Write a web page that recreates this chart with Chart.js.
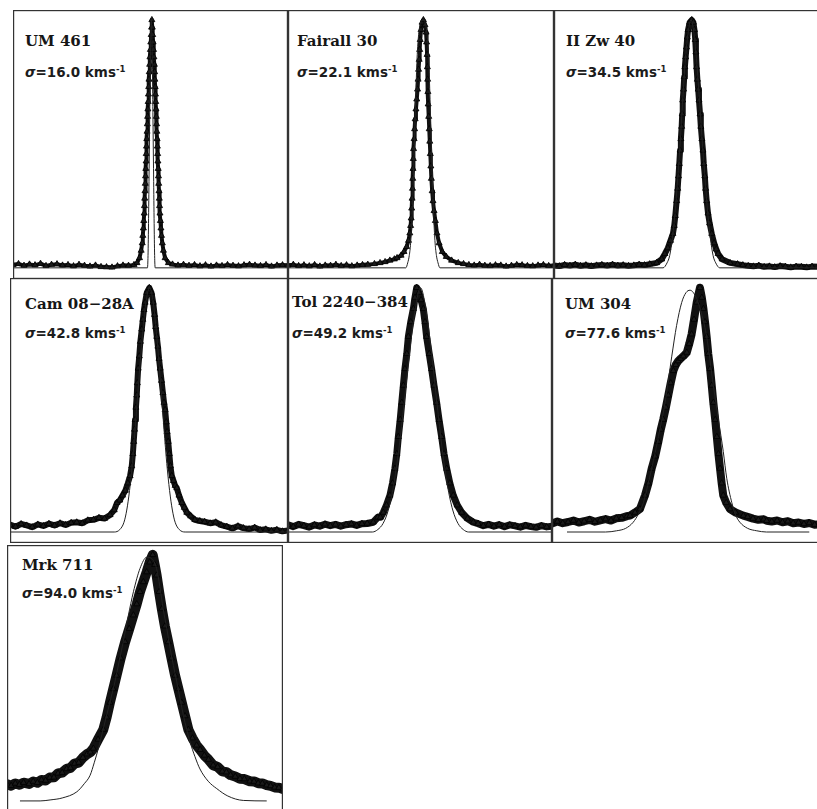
<!DOCTYPE html>
<html>
<head>
<meta charset="utf-8">
<script src="https://cdn.jsdelivr.net/npm/chart.js@4/dist/chart.umd.min.js"></script>
<style>
  html, body { margin: 0; padding: 0; background: #fff; width: 817px; height: 809px; overflow: hidden; }
  #fig { position: relative; width: 817px; height: 809px; }
  canvas { position: absolute; z-index: 2; }
  .lbl { position: absolute; z-index: 1; white-space: nowrap; color: #161616;
         font: bold 15px "DejaVu Serif", serif; line-height: 15px; }
  .sig { position: absolute; z-index: 1; white-space: nowrap; color: #1c1c1c;
         font: bold 13.5px "DejaVu Sans", sans-serif; line-height: 14px; }
  .sig sup { font-size: 8.5px; vertical-align: 5px; line-height: 0; }
</style>
</head>
<body>
<div id="fig"></div>
<script>
// Normalised H-alpha line profiles: observed points (triangles) and single-Gaussian fit (thin line).
// x: position across the panel (0-100), y: normalised flux (peak = 1).

const galaxyNames = ["UM 461", "Fairall 30", "II Zw 40", "Cam 08\u221228A", "Tol 2240\u2212384", "UM 304", "Mrk 711"];
const sigmaValues = [16.0, 22.1, 34.5, 42.8, 49.2, 77.6, 94.0];

const um461Obs = [[0,0.012],[2,0.016],[4,0.009],[6,0.014],[8,0.011],[10,0.017],[12,0.008],[14,0.013],[16,0.015],[18,0.010],[20,0.012],[22,0.007],[24,0.013],[26,0.009],[28,0.006],[30,0.010],[32,0.004],[34,0.003],[36,0.002],[38,0.007],[40,0.010],[42,0.009],[44,0.012],[45.1,0.02],
  [46.0,0.04],[46.6,0.07],[47.0,0.10],[47.2,0.13],[47.4,0.16],[47.55,0.19],[47.7,0.22],[47.8,0.25],[47.9,0.28],[48.0,0.31],[48.1,0.34],[48.2,0.37],[48.3,0.40],[48.4,0.43],[48.45,0.46],[48.55,0.49],[48.65,0.52],[48.75,0.55],[48.85,0.58],[48.95,0.61],[49.05,0.64],[49.15,0.67],[49.25,0.70],[49.35,0.73],[49.45,0.76],[49.55,0.79],[49.7,0.82],[49.8,0.85],[49.95,0.88],[50.1,0.91],[50.25,0.94],[50.4,0.97],[50.5,1.0],
  [50.65,0.97],[50.8,0.94],[50.95,0.91],[51.1,0.88],[51.25,0.85],[51.4,0.82],[51.5,0.79],[51.6,0.76],[51.7,0.73],[51.8,0.70],[51.9,0.67],[52.0,0.64],[52.1,0.61],[52.2,0.58],[52.3,0.55],[52.4,0.52],[52.5,0.49],[52.6,0.46],[52.7,0.43],[52.8,0.40],[52.9,0.37],[53.0,0.34],[53.1,0.31],[53.2,0.28],[53.3,0.25],[53.45,0.22],[53.6,0.19],[53.8,0.16],[54.0,0.13],[54.3,0.10],[54.7,0.07],[55.3,0.04],
  [56.5,0.02],[58,0.014],[60,0.010],[62,0.013],[64,0.009],[66,0.012],[68,0.007],[70,0.011],[72,0.006],[74,0.010],[76,0.008],[78,0.012],[80,0.009],[82,0.007],[84,0.011],[86,0.013],[88,0.010],[90,0.008],[92,0.012],[94,0.006],[96,0.010],[98,0.011],[100,0.010]];
const um461Fit = [[0,0],[48.9,0],[49.1,0.05],[49.3,0.2],[49.5,0.4],[49.7,0.6],[49.9,0.8],[50.1,0.93],[50.3,1.0],[50.5,0.93],[50.7,0.8],[50.9,0.6],[51.1,0.4],[51.3,0.2],[51.5,0.05],[51.7,0],[100,0]];

const fairall30Obs = [[0,0.010],[2,0.013],[4,0.008],[6,0.011],[8,0.007],[10,0.012],[12,0.006],[14,0.010],[16,0.009],[18,0.013],[20,0.008],[22,0.011],[24,0.007],[26,0.010],[28,0.012],[30,0.013],[32.5,0.016],
  [34.6,0.02],[36.5,0.024],[38.3,0.03],[40,0.035],[41.0,0.04],[42.5,0.05],[43.6,0.065],[44.6,0.085],[45.3,0.11],[45.8,0.14],[46.1,0.17],[46.3,0.20],[46.5,0.24],[46.65,0.28],[46.8,0.32],[46.9,0.36],[47.0,0.40],[47.1,0.44],[47.2,0.48],[47.4,0.52],[47.6,0.56],[47.8,0.60],[48.1,0.64],[48.4,0.68],[48.7,0.72],[48.9,0.76],[49.1,0.80],[49.3,0.84],[49.5,0.88],[49.7,0.92],[50.0,0.96],[50.4,0.99],[50.9,1.0],
  [51.5,0.98],[51.9,0.95],[52.1,0.91],[52.3,0.86],[52.4,0.81],[52.5,0.76],[52.6,0.71],[52.7,0.66],[52.9,0.61],[53.1,0.56],[53.3,0.51],[53.5,0.46],[53.7,0.41],[53.9,0.36],[54.2,0.31],[54.5,0.27],[54.9,0.23],[55.4,0.19],[56.0,0.14],[56.8,0.10],[58.0,0.065],[59.5,0.045],[61.5,0.03],[64,0.02],
  [66,0.016],[68,0.012],[70,0.010],[72,0.013],[74,0.009],[76,0.008],[78,0.011],[80,0.010],[82,0.006],[84,0.009],[86,0.012],[88,0.011],[90,0.008],[92,0.007],[94,0.010],[96,0.012],[98,0.008],[100,0.009]];
const fairall30Fit = [[0,0],[44.3,0],[45.0,0.02],[45.6,0.05],[46.1,0.1],[46.6,0.2],[47.1,0.35],[47.5,0.5],[48.0,0.68],[48.5,0.84],[49.2,0.95],[50.7,1.0],[52.2,0.95],[52.9,0.84],[53.4,0.68],[53.9,0.5],[54.3,0.35],[54.8,0.2],[55.3,0.1],[55.8,0.05],[56.4,0.02],[57.1,0],[100,0]];

const iiZw40Obs = [[0,0.010],[2,0.007],[4,0.012],[6,0.009],[8,0.013],[10,0.008],[12,0.011],[14,0.007],[16,0.010],[18,0.012],[20,0.009],[22,0.013],[24,0.009],[26,0.011],[28,0.008],[30,0.010],[32,0.013],[34,0.011],[36,0.015],
  [38.6,0.02],[40.5,0.035],[41.7,0.057],[42.8,0.08],[43.8,0.11],[44.7,0.138],[45.2,0.17],[45.6,0.21],[46.1,0.27],[46.5,0.32],[46.8,0.37],[47.1,0.42],[47.4,0.474],[47.7,0.52],[48.0,0.57],[48.2,0.62],[48.4,0.676],[48.7,0.72],[48.95,0.77],[49.2,0.81],[49.5,0.85],[49.8,0.89],[50.1,0.93],[50.4,0.96],[51.0,0.99],[51.8,1.0],
  [52.4,0.99],[52.8,0.96],[53.1,0.92],[53.35,0.87],[53.6,0.81],[53.9,0.76],[54.2,0.72],[54.5,0.676],[54.9,0.62],[55.2,0.57],[55.6,0.52],[56.0,0.474],[56.3,0.42],[56.7,0.37],[57.0,0.32],[57.4,0.27],[57.9,0.22],[58.5,0.18],[59.3,0.138],[60.2,0.10],[61.0,0.075],[61.7,0.057],[63.2,0.035],[66.2,0.02],[69,0.015],
  [71,0.011],[73,0.008],[75,0.006],[77,0.009],[79,0.004],[81,0.006],[83,0.003],[85,0.007],[87,0.005],[89,0.002],[91,0.005],[93,0.004],[95,0.002],[97,0.005],[100,0.004]];
const iiZw40Fit = [[0,0],[41,0],[42.5,0.02],[43.5,0.05],[44.5,0.12],[45.5,0.22],[46.5,0.36],[47.4,0.5],[48.3,0.66],[49.2,0.81],[50.2,0.93],[51.5,1.0],[52.8,0.93],[53.8,0.81],[54.8,0.66],[55.8,0.5],[56.8,0.36],[57.8,0.22],[58.8,0.12],[59.8,0.05],[60.8,0.02],[62.3,0],[100,0]];

const cam0828Obs = [[0,0.030],[2,0.022],[4,0.033],[6,0.027],[8,0.020],[10,0.031],[12,0.025],[14,0.034],[16,0.027],[18,0.036],[20,0.029],[22,0.038],[24,0.040],[26,0.036],[28,0.048],[30,0.050],[32,0.058],[34,0.055],[36,0.070],[37.5,0.09],[38.5,0.12],
  [39.5,0.13],[40.5,0.15],[41.5,0.17],[42.4,0.20],[43.2,0.23],[43.8,0.27],[44.2,0.32],[44.5,0.37],[44.8,0.42],[45.0,0.46],[45.3,0.51],[45.6,0.56],[45.8,0.61],[46.1,0.67],[46.5,0.72],[46.9,0.78],[47.4,0.83],[47.8,0.87],[48.2,0.91],[48.6,0.94],[49.2,0.98],[50.1,1.0],
  [50.9,0.98],[51.5,0.94],[52.0,0.89],[52.4,0.84],[52.8,0.80],[53.2,0.76],[53.6,0.71],[54.0,0.67],[54.5,0.62],[55.0,0.57],[55.4,0.53],[55.8,0.50],[56.2,0.45],[56.5,0.41],[56.9,0.37],[57.3,0.32],[57.7,0.27],[58.2,0.23],[58.8,0.21],[59.4,0.19],[60.0,0.18],[60.8,0.15],[61.8,0.12],[62.7,0.10],[63.6,0.08],[65,0.065],[66.5,0.05],[68.3,0.045],
  [70,0.042],[72,0.036],[74,0.040],[76,0.028],[78,0.022],[80,0.015],[82,0.024],[84,0.016],[86,0.012],[88,0.018],[90,0.008],[92,0.011],[94,0.005],[96,0.009],[98,0.003],[100,0.006]];
const cam0828Fit = [[0,0],[37.5,0],[39.5,0.01],[41,0.04],[42,0.09],[43,0.17],[44,0.28],[45,0.42],[46,0.57],[47,0.72],[48,0.85],[49,0.95],[50.2,1.0],[51.4,0.95],[52.4,0.85],[53.4,0.72],[54.4,0.57],[55.4,0.42],[56.4,0.28],[57.4,0.17],[58.4,0.09],[59.4,0.04],[60.9,0.01],[63,0],[100,0]];

const tol2240Obs = [[0,0.030],[2,0.022],[4,0.031],[6,0.026],[8,0.020],[10,0.029],[12,0.024],[14,0.032],[16,0.026],[18,0.031],[20,0.024],[22,0.030],[24,0.033],[26,0.027],[28,0.034],[30,0.035],[32.3,0.04],[34.0,0.06],[35,0.06],
  [36.1,0.08],[37.3,0.11],[38.6,0.15],[39.6,0.20],[40.5,0.26],[41.2,0.32],[41.8,0.39],[42.5,0.46],[43.1,0.53],[43.7,0.60],[44.3,0.668],[45.0,0.73],[45.6,0.80],[46.5,0.86],[47.5,0.914],[48.1,0.96],[48.75,1.0],
  [49.6,0.98],[50.4,0.95],[51.25,0.914],[51.9,0.86],[52.5,0.80],[53.5,0.73],[54.4,0.668],[55.3,0.60],[56.3,0.53],[57.2,0.46],[58.2,0.39],[59.1,0.32],[60.1,0.26],[61.3,0.20],[62.6,0.15],[64.1,0.11],[65.8,0.08],[68,0.055],[70.2,0.04],
  [72,0.034],[74,0.026],[76,0.031],[78,0.024],[80,0.030],[82,0.022],[84,0.029],[86,0.025],[88,0.020],[90,0.027],[92,0.022],[94,0.019],[96,0.026],[98,0.021],[100,0.024]];
const tol2240Fit = [[0,0],[32,0],[34,0.01],[36,0.035],[38,0.09],[40,0.19],[42,0.34],[44,0.53],[46,0.73],[48,0.9],[50.2,1.0],[52.4,0.9],[54.4,0.73],[56.4,0.53],[58.4,0.34],[60.4,0.19],[62.4,0.09],[64.4,0.035],[66.4,0.01],[68.4,0],[100,0]];

const um304Obs = [[0,0.035],[2,0.043],[4,0.036],[6,0.041],[8,0.047],[10,0.039],[12,0.044],[14,0.050],[16,0.042],[18,0.048],[20,0.053],[22,0.047],[24,0.056],[26,0.058],[28,0.065],[29.1,0.067],[31,0.08],[32.8,0.094],
  [34.7,0.15],[36,0.20],[37.2,0.26],[38.5,0.31],[39.7,0.37],[40.6,0.42],[41.5,0.46],[42.5,0.51],[43.4,0.56],[44.3,0.61],[45.3,0.66],[46.2,0.685],[47.1,0.70],[48.0,0.71],[49.0,0.72],[50.3,0.735],[51.2,0.77],[52.1,0.81],[53.0,0.87],[54.0,0.94],[55.2,1.0],
  [55.9,0.96],[56.5,0.914],[57.1,0.86],[57.7,0.80],[58.3,0.73],[59.0,0.668],[59.6,0.60],[60.2,0.53],[60.9,0.46],[61.5,0.39],[62.1,0.32],[62.7,0.26],[63.3,0.20],[63.9,0.15],[65.0,0.12],[66.4,0.094],[68.5,0.08],[71.4,0.067],
  [73,0.062],[75,0.055],[77,0.050],[79,0.052],[80.1,0.046],[82,0.043],[84,0.047],[86,0.040],[88,0.044],[90,0.036],[92,0.039],[94,0.033],[96,0.037],[98,0.030],[100,0.032]];
const um304Fit = [[5.6,0],[20,0],[24.1,0.005],[27.5,0.015],[30.3,0.04],[32.3,0.075],[34.1,0.12],[35.7,0.19],[37.2,0.26],[38.5,0.325],[39.7,0.39],[42.2,0.53],[44.7,0.72],[46.5,0.846],[48.4,0.94],[50.0,0.98],[51.5,0.99],[54.0,0.955],[56.0,0.885],[57.7,0.80],[60.2,0.60],[62.1,0.46],[63.9,0.33],[65.2,0.22],[67.1,0.12],[68.5,0.07],[70.1,0.04],[73,0.015],[76.4,0.005],[80,0],[96,0]];

const mrk711Obs = [[0,0.068],[1.5,0.062],[3,0.071],[4.5,0.066],[6,0.074],[8,0.069],[9.5,0.079],[11,0.074],[12.5,0.085],[14,0.083],[15.5,0.095],[17,0.096],[18.5,0.112],[20,0.115],[21.6,0.13],[23,0.134],[24.5,0.152],[26,0.156],[27.5,0.176],[29,0.19],[30.2,0.198],[31.3,0.213],[33,0.25],[34.9,0.29],[36.1,0.34],[37.3,0.40],[38.5,0.455],[39.7,0.51],[41.2,0.58],[42.8,0.646],[44.3,0.70],[45.8,0.755],[47,0.80],[48.2,0.85],[49.4,0.89],[50.6,0.93],[51.7,0.97],[52.8,1.0],
  [53.5,0.96],[54.2,0.917],[55.1,0.85],[56.1,0.78],[57.2,0.71],[58.4,0.646],[59.6,0.58],[60.9,0.51],[62.1,0.455],[63.3,0.40],[64.5,0.345],[65.7,0.29],[67.2,0.255],[68.7,0.226],[70,0.208],[71.5,0.185],[73,0.168],[74.7,0.145],[76.3,0.138],[78,0.12],[79.5,0.117],[81,0.105],[82.7,0.099],[84.4,0.09],[86,0.089],[88,0.08],[89.5,0.079],[91,0.072],[92.5,0.071],[94.1,0.064],[95.5,0.061],[97,0.055],[98.5,0.054],[100,0.048]];
const mrk711Fit = [[4.7,0],[12,0],[15.6,0.004],[20,0.012],[25.3,0.037],[28,0.07],[30.1,0.104],[31.6,0.155],[33.1,0.213],[34.6,0.28],[36.1,0.348],[37.6,0.415],[39.1,0.484],[40.6,0.565],[42.1,0.646],[43.9,0.75],[45.8,0.85],[48.2,0.945],[50.6,0.99],[52.4,0.985],[54.2,0.944],[55.4,0.87],[56.6,0.78],[57.9,0.70],[59.1,0.62],[60.3,0.55],[61.5,0.484],[62.7,0.415],[63.9,0.348],[65.1,0.29],[66.3,0.24],[68.1,0.18],[69.9,0.13],[72.9,0.08],[76.0,0.05],[80,0.02],[85.6,0.002],[94.1,0]];

// panel frames on the page: [left, top, width, height], stroke width of the observed profile, label anchors
const panels = [
  { obs: um461Obs,     fit: um461Fit,     box: [13, 10, 275, 269],  lw: 4, pr: 3.5, lbl: [25, 34, 65] },
  { obs: fairall30Obs, fit: fairall30Fit, box: [288, 10, 266, 269], lw: 4, pr: 3.5, lbl: [297, 34, 65] },
  { obs: iiZw40Obs,    fit: iiZw40Fit,    box: [554, 10, 266, 269], lw: 6, pr: 3.5, lbl: [566, 34, 65] },
  { obs: cam0828Obs,   fit: cam0828Fit,   box: [10, 278, 278, 265], lw: 6, pr: 3.5, lbl: [25, 297, 326] },
  { obs: tol2240Obs,   fit: tol2240Fit,   box: [288, 278, 264, 265], lw: 7, pr: 3.5, lbl: [292, 295, 326] },
  { obs: um304Obs,     fit: um304Fit,     box: [552, 278, 268, 265], lw: 8, pr: 3.5, lbl: [565, 297, 326] },
  { obs: mrk711Obs,    fit: mrk711Fit,    box: [7, 545, 276, 267],   lw: 10, pr: 3.5, lbl: [22, 558, 586] }
];

const frame = {
  id: 'frame',
  afterDraw(chart) {
    const a = chart.chartArea, c = chart.ctx;
    c.save();
    c.strokeStyle = '#333';
    c.lineWidth = 1.2;
    c.strokeRect(a.left + 0.6, a.top + 0.6, a.width - 1.2, a.height - 1.2);
    c.restore();
  }
};

const fig = document.getElementById('fig');
const toXY = arr => arr.map(([x, y]) => ({ x, y }));

panels.forEach((p, i) => {
  const [l, t, w, h] = p.box;
  const cv = document.createElement('canvas');
  cv.width = w; cv.height = h;
  cv.style.left = l + 'px'; cv.style.top = t + 'px';
  cv.style.width = w + 'px'; cv.style.height = h + 'px';
  fig.appendChild(cv);

  const name = document.createElement('div');
  name.className = 'lbl';
  name.style.left = p.lbl[0] + 'px'; name.style.top = p.lbl[1] + 'px';
  name.textContent = galaxyNames[i];
  fig.appendChild(name);

  const sig = document.createElement('div');
  sig.className = 'sig';
  sig.style.left = p.lbl[0] + 'px'; sig.style.top = p.lbl[2] + 'px';
  sig.innerHTML = '<i>\u03c3</i>=' + sigmaValues[i].toFixed(1) + ' kms<sup>-1</sup>';
  fig.appendChild(sig);

  new Chart(cv, {
    type: 'line',
    data: {
      datasets: [
        {
          data: toXY(p.obs),
          borderColor: '#111',
          borderWidth: p.lw,
          borderJoinStyle: 'round',
          borderCapStyle: 'round',
          tension: 0,
          pointStyle: 'triangle',
          pointRadius: p.pr,
          pointBackgroundColor: '#1a1a1a',
          pointBorderColor: '#000',
          pointBorderWidth: 0.8,
          order: 2
        },
        {
          data: toXY(p.fit),
          borderColor: '#222',
          borderWidth: 1,
          pointRadius: 0,
          cubicInterpolationMode: 'monotone',
          order: 1
        }
      ]
    },
    options: {
      responsive: false,
      animation: false,
      events: [],
      layout: { padding: 0, autoPadding: false },
      plugins: { legend: { display: false }, tooltip: { enabled: false } },
      scales: {
        x: { type: 'linear', min: 0, max: 100, display: false },
        y: { type: 'linear', min: -0.045, max: 1.04, display: false }
      }
    },
    plugins: [frame]
  });
});
</script>
</body>
</html>
